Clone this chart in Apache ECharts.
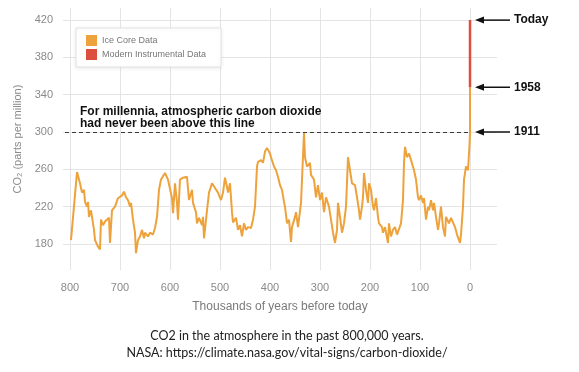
<!DOCTYPE html>
<html>
<head>
<meta charset="utf-8">
<script src="https://cdn.jsdelivr.net/npm/echarts@6.0.0/dist/echarts.min.js"></script>
<style>
html,body{margin:0;padding:0;background:#fff;}
#chart{width:579px;height:372px;}
</style>
</head>
<body>
<div id="chart"></div>
<script>
// ---- data ----
const iceYears = [798,786,782,780,776,772,770,766,764,762,758,752,750,744,740,738,734,730,726,722,720,716,710,704,700,696,692,688,684,680,678,674,670,668,664,660,656,652,650,644,640,634,630,626,622,618,610,604,596,594,590,586,584,580,574,570,566,562,556,554,548,546,542,536,534,532,526,522,516,510,504,498,494,490,486,484,480,476,474,468,464,460,456,452,448,444,438,434,430,426,424,418,414,410,406,400,398,392,388,384,380,376,372,370,366,362,358,356,350,348,344,338,336,332,330,326,320,318,312,308,304,300,296,292,288,282,278,274,270,266,264,260,256,252,248,244,240,236,230,226,222,220,216,214,212,208,204,202,198,194,192,188,184,182,176,174,170,164,162,158,154,150,146,142,138,134,132,130,126,122,118,114,112,108,104,102,98,94,92,88,84,82,78,74,72,68,64,62,58,54,50,48,42,38,34,30,26,22,20,18,14,12,8,4,2,1,0,0];
const icePpm = [184,257,249,245,235,238,225,220,225,209,216,195,184,177,174,206,200,204,202,208,181,216,220,229,227,232,236,230,227,220,224,206,192,170,184,188,195,186,192,188,192,190,197,209,238,249,256,249,229,213,245,224,206,249,251,249,252,227,238,224,214,202,208,200,209,186,216,235,245,240,235,227,235,251,241,235,245,214,203,208,195,200,188,202,195,198,197,206,220,263,268,270,267,279,283,277,273,263,259,252,243,238,225,220,202,206,182,198,209,214,198,224,249,299,273,263,267,254,249,230,243,227,235,214,230,220,206,192,181,195,224,209,192,202,220,273,259,245,243,230,216,206,220,230,256,238,224,245,238,220,216,229,209,202,198,192,198,181,202,188,195,198,190,192,202,227,267,284,273,277,270,272,259,249,230,227,232,224,229,206,220,216,227,216,224,209,195,202,220,198,188,209,202,208,206,198,190,188,181,190,220,249,263,259,277,286,300,348];
const modernYears = [0, 0];
const modernPpm = [348, 420];
const xTicks = [800,700,600,500,400,300,200,100,0];
const yTicks = [180,220,260,300,340,380,420];
const thresholdPpm = 300;
const annoLabels = ['Today','1958','1911'];
const annoPpm = [420, 348, 300];
const noteLines = ['For millennia, atmospheric carbon dioxide','had never been above this line'];
const captionLines = ['CO2 in the atmosphere in the past 800,000 years.','NASA: https://climate.nasa.gov/vital-signs/carbon-dioxide/'];

const orange = '#eea23c';
const red = '#dc4f3c';

const chart = echarts.init(document.getElementById('chart'), null, {renderer:'canvas'});
const iceData = iceYears.map((y,i)=>[y, icePpm[i]]);
const modernData = modernYears.map((y,i)=>[y, modernPpm[i]]);

chart.setOption({
  animation:false,
  backgroundColor:'#fff',
  textStyle:{fontFamily:'Liberation Sans'},
  grid:{left:63, right:82, top:8, bottom:102},
  legend:{
    left:76, top:28, orient:'vertical',
    padding:[7,15,7,10], itemWidth:11, itemHeight:11, itemGap:3,
    icon:'rect',
    textStyle:{fontSize:9, color:'#777', fontFamily:'Liberation Sans'},
    backgroundColor:'#fff', borderColor:'#e2e2e2', borderWidth:1,
    shadowBlur:4, shadowColor:'rgba(0,0,0,0.08)', shadowOffsetY:1,
    data:['Ice Core Data','Modern Instrumental Data']
  },
  xAxis:{
    type:'value', inverse:true, min:-54, max:814,
    axisLine:{show:false},
    axisTick:{show:false, customValues:xTicks},
    axisLabel:{customValues:xTicks, color:'#8a8a8a', fontSize:11, margin:12},
    splitLine:{show:true, lineStyle:{color:'#e4e4e4', width:1}},
    name:'Thousands of years before today', nameLocation:'middle', nameGap:31,
    nameTextStyle:{color:'#7a7a7a', fontSize:12}
  },
  yAxis:{
    type:'value', min:152, max:433,
    axisLine:{show:false},
    axisTick:{show:false, customValues:yTicks},
    axisLabel:{customValues:yTicks, color:'#8a8a8a', fontSize:11, margin:10},
    splitLine:{show:true, lineStyle:{color:'#e4e4e4', width:1}},
    name:'CO\u2082 (parts per million)', nameLocation:'middle', nameGap:36,
    nameTextStyle:{color:'#8a8a8a', fontSize:11}
  },
  series:[
    {
      name:'Ice Core Data', type:'line', data:iceData, showSymbol:false,
      color:orange, lineStyle:{color:orange, width:2}, z:3,
      markLine:{
        silent:true, symbol:'none', label:{show:false},
        lineStyle:{color:'#3a3a3a', width:1.2, type:[4,3]},
        data:[[{coord:[810, thresholdPpm]},{coord:[0, thresholdPpm]}]]
      }
    },
    {
      name:'Modern Instrumental Data', type:'line', data:modernData, showSymbol:false,
      color:red, lineStyle:{color:red, width:2.5}, z:4
    }
  ]
});

function drawAnnotations(){
  const g = [];
  annoLabels.forEach((lab,i)=>{
    const p = chart.convertToPixel({gridIndex:0}, [0, annoPpm[i]]);
    const tip = p[0] + 5;
    const y = p[1];
    g.push({type:'line', shape:{x1:tip+7, y1:y, x2:tip+35, y2:y}, style:{stroke:'#111', lineWidth:1.5}, silent:true});
    g.push({type:'polygon', shape:{points:[[tip,y],[tip+9,y-3.5],[tip+9,y+3.5]]}, style:{fill:'#111'}, silent:true});
    g.push({type:'text', x:tip+39, y:y, style:{text:lab, fill:'#111', font:'bold 12px "Liberation Sans"', textVerticalAlign:'middle', textAlign:'left'}, silent:true});
  });
  const pl = chart.convertToPixel({gridIndex:0}, [780, thresholdPpm]);
  g.push({type:'text', x:pl[0], y:pl[1]-2, style:{text:noteLines.join('\n'), fill:'#111', font:'bold 12px "Liberation Sans"', lineHeight:12.5, textVerticalAlign:'bottom', textAlign:'left'}, silent:true});
  g.push({type:'text', x:287, y:336, style:{text:captionLines[0], fill:'#222', font:'12.5px Lato', textAlign:'center', textVerticalAlign:'middle'}, silent:true});
  g.push({type:'text', x:287, y:353, style:{text:captionLines[1], fill:'#222', font:'12.5px Lato', textAlign:'center', textVerticalAlign:'middle'}, silent:true});
  chart.setOption({graphic:g});
}
drawAnnotations();
</script>
</body>
</html>
